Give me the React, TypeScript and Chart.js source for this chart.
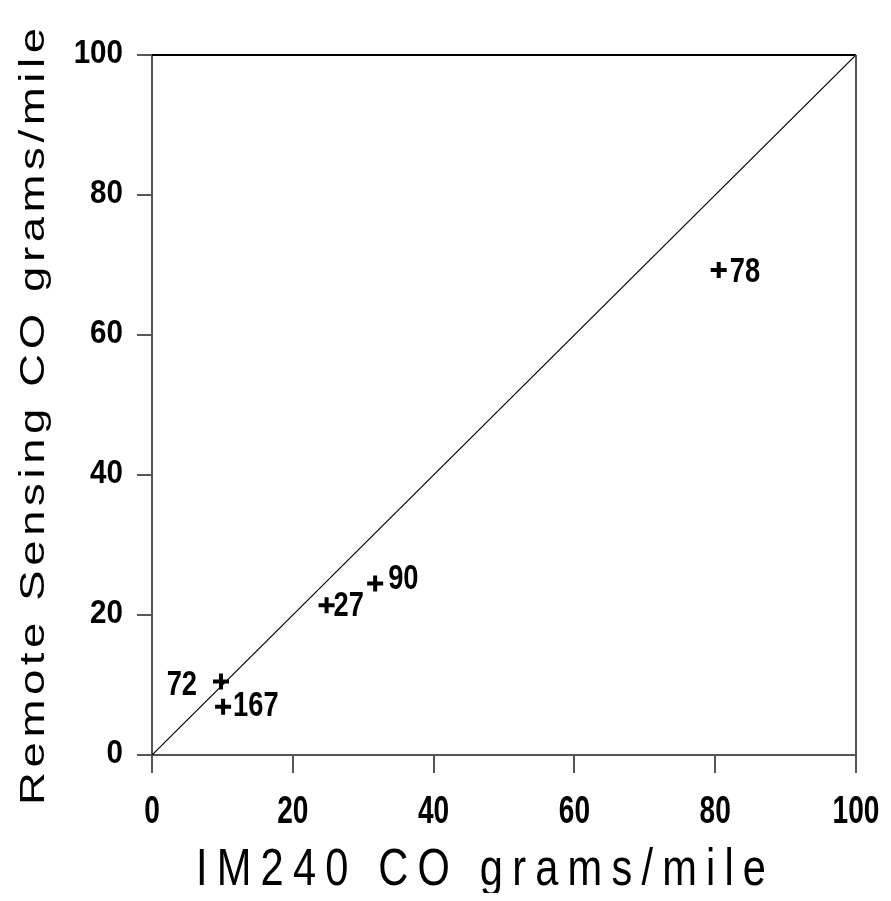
import React, { useEffect, useRef } from "react";
import { Chart, registerables } from "chart.js";

Chart.register(...registerables);

// ---- data ----
const pointIds: string[] = ["72", "167", "27", "90", "78"];
const im240Values: number[] = [9.8, 10.1, 24.8, 31.7, 80.5];
const remoteValues: number[] = [10.5, 6.9, 21.4, 24.5, 69.3];
const equalityLineX: number[] = [0, 100];
const equalityLineY: number[] = [0, 100];
const axisMin = 0;
const axisMax = 100;
const tickStep = 20;
const xTitle = "IM240 CO grams/mile";
const yTitle = "Remote Sensing CO grams/mile";

// ---- styling ----
const ARIAL = '"Liberation Sans", Arial, sans-serif';
const AXIS_COLOR = "#555";

const CANVAS_W = 875;
const CANVAS_H = 885;
const AREA = { left: 144, right: 848, top: 47, bottom: 747 };

// label placement relative to each marker (style, not data)
const labelPlacement = [
  { dx: -24, dy: 1, align: "right" },
  { dx: 10, dy: -3, align: "left" },
  { dx: 7, dy: -2, align: "left" },
  { dx: 13, dy: -7, align: "left" },
  { dx: 11, dy: 0, align: "left" },
];

// draw text compressed/stretched horizontally by sx
function drawScaledText(ctx: any, text: string, x: number, y: number, sx: number, align: string) {
  ctx.save();
  ctx.translate(x, y);
  ctx.scale(sx, 1);
  ctx.textAlign = align;
  ctx.fillText(text, 0, 0);
  ctx.restore();
}

// draw text so that it spans exactly `length` px, with horizontal scale sx and letter spacing to fill
function drawFittedText(ctx: any, text: string, length: number, sx: number) {
  ctx.save();
  ctx.scale(sx, 1);
  const w0 = ctx.measureText(text).width;
  const target = length / sx;
  const ls = (target - w0) / (text.length - 1);
  ctx.letterSpacing = `${ls}px`;
  ctx.textAlign = "left";
  ctx.fillText(text, 0, 0);
  ctx.restore();
}

const framePlugin = {
  id: "frame",
  afterDraw(chart: any) {
    const { ctx, chartArea } = chart;
    ctx.save();
    ctx.lineWidth = 2;
    ctx.strokeStyle = "#000";
    ctx.beginPath();
    ctx.moveTo(chartArea.left, chartArea.top);
    ctx.lineTo(chartArea.right, chartArea.top);
    ctx.stroke();
    ctx.strokeStyle = AXIS_COLOR;
    ctx.beginPath();
    ctx.moveTo(chartArea.right, chartArea.top);
    ctx.lineTo(chartArea.right, chartArea.bottom);
    ctx.stroke();
    ctx.restore();
  },
};

// tick labels, placed through the chart's scales
const tickLabelPlugin = {
  id: "tickLabels",
  afterDraw(chart: any) {
    const { ctx } = chart;
    const xs = chart.scales.x;
    const ys = chart.scales.y;
    ctx.save();
    ctx.fillStyle = "#000";
    ctx.textBaseline = "alphabetic";
    ctx.font = `bold 39px ${ARIAL}`;
    xs.ticks.forEach((t: any) => {
      const px = xs.getPixelForValue(t.value);
      drawScaledText(ctx, String(t.value), px, 815, 0.72, "center");
    });
    ctx.font = `bold 34px ${ARIAL}`;
    ys.ticks.forEach((t: any) => {
      const py = ys.getPixelForValue(t.value);
      drawScaledText(ctx, String(t.value), 115, py + 8, 0.87, "right");
    });
    ctx.restore();
  },
};

const pointLabelPlugin = {
  id: "pointLabels",
  afterDatasetsDraw(chart: any) {
    const { ctx } = chart;
    const meta = chart.getDatasetMeta(1);
    ctx.save();
    const size = 35;
    ctx.font = `bold ${size}px ${ARIAL}`;
    ctx.fillStyle = "#000";
    ctx.textBaseline = "alphabetic";
    meta.data.forEach((el: any, i: number) => {
      const p = labelPlacement[i];
      drawScaledText(ctx, pointIds[i], el.x + p.dx, el.y + p.dy + size * 0.358, 0.78, p.align);
    });
    ctx.restore();
  },
};

const titlePlugin = {
  id: "axisTitles",
  afterDraw(chart: any) {
    const { ctx } = chart;
    // x title
    ctx.save();
    ctx.font = `52px ${ARIAL}`;
    ctx.fillStyle = "#000";
    ctx.textBaseline = "alphabetic";
    ctx.translate(188, 877);
    drawFittedText(ctx, xTitle, 570, 0.8);
    ctx.restore();
    // y title
    ctx.save();
    ctx.font = `35px ${ARIAL}`;
    ctx.fillStyle = "#000";
    ctx.textBaseline = "alphabetic";
    ctx.translate(35.5, 797);
    ctx.rotate(-Math.PI / 2);
    drawFittedText(ctx, yTitle, 777, 1.3);
    ctx.restore();
  },
};

export default function App() {
  const ref = useRef<HTMLCanvasElement>(null);

  useEffect(() => {
    if (!ref.current) return;
    const chart = new Chart(ref.current, {
      type: "scatter",
      data: {
        datasets: [
          {
            type: "line",
            label: "equality",
            data: equalityLineX.map((x, i) => ({ x, y: equalityLineY[i] })),
            borderColor: "#000",
            borderWidth: 1.2,
            pointRadius: 0,
            fill: false,
          } as any,
          {
            type: "scatter",
            label: "vehicles",
            data: im240Values.map((x, i) => ({ x, y: remoteValues[i] })),
            pointStyle: "cross",
            pointRadius: 8,
            radius: 8,
            pointBorderWidth: 4,
            borderWidth: 4,
            borderColor: "#000",
            backgroundColor: "#000",
          } as any,
        ],
      },
      options: {
        responsive: false,
        animation: false,
        events: [],
        layout: {
          padding: { left: 0, top: AREA.top, right: CANVAS_W - AREA.right, bottom: 0 },
        },
        plugins: {
          legend: { display: false },
          tooltip: { enabled: false },
        },
        scales: {
          x: {
            type: "linear",
            min: axisMin,
            max: axisMax,
            afterFit: (s: any) => {
              s.height = CANVAS_H - AREA.bottom;
            },
            ticks: {
              stepSize: tickStep,
              display: false,
            },
            grid: {
              drawOnChartArea: false,
              drawTicks: true,
              tickLength: 18,
              color: AXIS_COLOR,
              lineWidth: 2,
            },
            border: { display: true, color: AXIS_COLOR, width: 2 },
          },
          y: {
            type: "linear",
            min: axisMin,
            max: axisMax,
            afterFit: (s: any) => {
              s.width = AREA.left;
            },
            ticks: {
              stepSize: tickStep,
              display: false,
            },
            grid: {
              drawOnChartArea: false,
              drawTicks: true,
              tickLength: 15,
              color: AXIS_COLOR,
              lineWidth: 2,
            },
            border: { display: true, color: AXIS_COLOR, width: 2 },
          },
        },
      },
      plugins: [framePlugin, tickLabelPlugin, pointLabelPlugin, titlePlugin],
    });
    return () => chart.destroy();
  }, []);

  return (
    <div style={{ width: CANVAS_W, height: CANVAS_H, background: "#fff" }}>
      <canvas ref={ref} width={CANVAS_W} height={CANVAS_H} style={{ display: "block" }} />
    </div>
  );
}
